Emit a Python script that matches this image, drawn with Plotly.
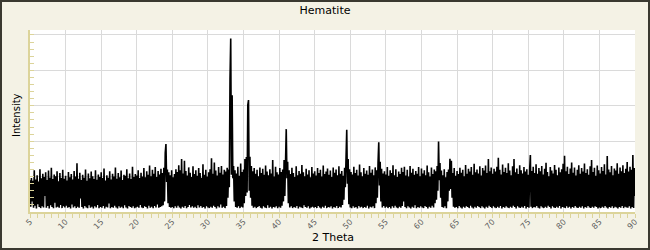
import numpy as np
import plotly.graph_objects as go

# ---- data (intensity counts on a 0.1 deg 2-theta grid) ----
theta_start = 5.0
theta_step = 0.1

counts_05 = [90, 15, 96, 30, 88, 12, 118, 18, 92, 10,
             104, 22, 86, 14, 121, 11, 95, 16, 108, 13,
             99, 45, 112, 12, 90, 17, 117, 10, 97, 19,
             125, 14, 93, 11, 106, 26, 101, 13, 115, 15,
             87, 12, 110, 20, 96, 11, 119, 16, 94, 13]
counts_10 = [102, 18, 89, 12, 113, 14, 98, 10, 107, 21,
             92, 13, 116, 16, 100, 11, 138, 15, 94, 12,
             111, 38, 90, 14, 105, 10, 97, 17, 120, 13,
             88, 11, 109, 19, 95, 12, 114, 15, 101, 10,
             93, 16, 118, 13, 91, 20, 106, 11, 99, 14]
counts_15 = [112, 12, 96, 17, 123, 10, 89, 15, 104, 13,
             97, 24, 115, 11, 92, 14, 108, 12, 100, 18,
             126, 13, 94, 10, 110, 16, 98, 12, 117, 15,
             90, 11, 105, 19, 102, 13, 121, 10, 95, 17,
             109, 14, 93, 12, 128, 16, 99, 11, 107, 13]
counts_20 = [103, 15, 118, 12, 96, 20, 111, 13, 100, 11,
             124, 16, 98, 14, 115, 10, 105, 18, 131, 12,
             101, 15, 119, 11, 108, 17, 127, 13, 99, 21,
             116, 12, 106, 14, 122, 16, 110, 19, 125, 30,
             167, 192, 85, 120, 25, 112, 14, 104, 12, 118]
counts_25 = [14, 98, 11, 107, 16, 121, 12, 113, 18, 132,
             13, 118, 10, 150, 15, 109, 12, 145, 17, 116,
             11, 103, 14, 126, 20, 111, 13, 99, 16, 129,
             12, 107, 15, 118, 11, 102, 19, 124, 13, 110,
             17, 97, 12, 135, 14, 105, 10, 119, 16, 100]
counts_30 = [13, 112, 11, 121, 15, 152, 12, 108, 18, 140,
             14, 117, 10, 103, 16, 127, 13, 111, 21, 130,
             12, 106, 15, 119, 11, 114, 17, 125, 40, 120,
             70, 375, 490, 105, 330, 95, 130, 30, 118, 14,
             109, 12, 128, 16, 102, 11, 137, 15, 113, 13]
counts_35 = [120, 25, 150, 45, 155, 55, 302, 316, 60, 156,
             40, 130, 18, 115, 12, 124, 15, 108, 11, 119,
             14, 101, 17, 126, 12, 110, 10, 122, 16, 105,
             13, 131, 11, 114, 19, 104, 12, 121, 15, 109,
             10, 147, 14, 100, 13, 128, 16, 112, 11, 106]
counts_40 = [15, 124, 12, 113, 18, 120, 30, 147, 45, 140,
             234, 95, 142, 25, 118, 13, 107, 16, 125, 11,
             110, 14, 99, 12, 129, 17, 104, 10, 116, 15,
             108, 13, 133, 11, 112, 19, 101, 14, 122, 12,
             106, 16, 118, 10, 98, 13, 127, 15, 109, 12]
counts_45 = [115, 14, 103, 11, 124, 17, 110, 13, 119, 10,
             100, 15, 131, 12, 107, 18, 114, 11, 123, 14,
             105, 13, 117, 16, 99, 10, 126, 14, 111, 12,
             120, 17, 104, 11, 129, 15, 108, 13, 116, 20,
             102, 35, 125, 70, 152, 232, 80, 150, 22, 121]
counts_50 = [13, 113, 11, 106, 16, 128, 12, 110, 14, 119,
             10, 103, 17, 134, 13, 112, 15, 101, 11, 124,
             14, 108, 12, 117, 18, 105, 10, 130, 15, 111,
             13, 120, 16, 104, 11, 126, 25, 118, 40, 140,
             197, 75, 142, 30, 122, 13, 109, 17, 115, 12]
counts_55 = [106, 15, 127, 11, 102, 14, 118, 10, 110, 16,
             132, 12, 104, 18, 121, 13, 99, 11, 114, 15,
             107, 12, 125, 17, 113, 30, 128, 14, 103, 11,
             119, 16, 100, 13, 130, 10, 111, 15, 122, 12,
             105, 19, 116, 11, 108, 14, 127, 12, 101, 16]
counts_60 = [123, 13, 109, 11, 118, 17, 104, 14, 131, 10,
             112, 15, 100, 12, 126, 18, 107, 13, 120, 25,
             115, 35, 130, 60, 199, 90, 138, 40, 117, 14,
             104, 12, 121, 16, 98, 11, 113, 30, 120, 60,
             150, 65, 145, 40, 110, 15, 124, 12, 102, 14]
counts_65 = [116, 11, 107, 17, 125, 13, 111, 10, 119, 15,
             101, 12, 133, 16, 108, 14, 122, 11, 114, 18,
             127, 13, 105, 10, 136, 15, 112, 12, 120, 17,
             109, 14, 129, 11, 103, 16, 124, 13, 117, 10,
             131, 15, 110, 12, 150, 18, 115, 14, 126, 11]
counts_70 = [108, 16, 122, 13, 114, 11, 128, 15, 153, 12,
             119, 17, 106, 10, 134, 14, 113, 12, 125, 16,
             110, 13, 138, 11, 117, 15, 104, 12, 129, 18,
             150, 14, 112, 10, 123, 16, 107, 13, 132, 11,
             118, 15, 109, 12, 127, 17, 114, 10, 121, 14]
counts_75 = [105, 12, 120, 161, 15, 116, 11, 128, 14, 110,
             13, 135, 17, 108, 12, 124, 10, 115, 16, 130,
             13, 106, 11, 122, 15, 139, 12, 113, 18, 101,
             14, 127, 10, 117, 16, 109, 13, 133, 11, 119,
             15, 104, 12, 126, 17, 112, 10, 121, 14, 136]
counts_80 = [13, 159, 11, 115, 16, 128, 12, 107, 15, 123,
             10, 140, 14, 111, 12, 126, 17, 103, 13, 119,
             11, 132, 15, 108, 12, 124, 16, 114, 10, 137,
             14, 110, 12, 121, 17, 105, 13, 129, 11, 147,
             15, 113, 12, 125, 16, 102, 14, 131, 10, 118]
counts_85 = [13, 109, 11, 127, 15, 116, 12, 135, 17, 106,
             13, 158, 10, 120, 14, 112, 12, 130, 16, 104,
             11, 123, 15, 117, 13, 138, 10, 108, 14, 126,
             12, 115, 17, 132, 11, 110, 15, 122, 13, 141,
             12, 114, 16, 128, 10, 119, 14, 161, 11, 124]
counts_90 = [45]

x_tick_values = [5, 10, 15, 20, 25, 30, 35, 40, 45, 50, 55, 60, 65, 70, 75, 80, 85, 90]
x_tick_labels = [str(v) for v in x_tick_values]

chart_title = "Hematite"
x_title = "2 Theta"
y_title = "Intensity"

# ---- build series ----
intensity = (counts_05 + counts_10 + counts_15 + counts_20 + counts_25 + counts_30 +
             counts_35 + counts_40 + counts_45 + counts_50 + counts_55 + counts_60 +
             counts_65 + counts_70 + counts_75 + counts_80 + counts_85 + counts_90)
two_theta = np.round(theta_start + theta_step * np.arange(len(intensity)), 2)

# ---- layout geometry ----
W, H = 650, 250
ML, MR, MT, MB = 30, 15, 30, 38
PW = W - ML - MR
PH = H - MT - MB

def px_to_paper_x(px):
    return (px - ML) / PW

def py_to_paper_y(py):
    return (H - MB - py) / PH

cream = "#f4f2e5"
axis_yellow = "#dcd49a"
grid = "#dadada"
font_family = "DejaVu Sans, Verdana, sans-serif"

fig = go.Figure()
fig.add_trace(go.Scatter(
    x=two_theta, y=intensity, mode="lines",
    line=dict(color="#000000", width=1.6, simplify=False),
    hoverinfo="skip", showlegend=False,
))

fig.update_layout(
    width=W, height=H,
    margin=dict(l=ML, r=MR, t=MT, b=MB, pad=0),
    paper_bgcolor=cream,
    plot_bgcolor="#ffffff",
    font=dict(family=font_family, color="#000000", size=11),
    title=dict(text=chart_title, x=0.5, xref="container", xanchor="center",
               y=1 - 10 / H, yref="container", yanchor="middle",
               font=dict(size=11, color="#000000", family=font_family)),
    showlegend=False,
)

fig.update_xaxes(
    range=[5, 90],
    tickmode="array", tickvals=x_tick_values, ticktext=x_tick_labels,
    tickangle=-45,
    tickfont=dict(size=8, color="#606060", family=font_family),
    ticks="outside", ticklen=4, tickcolor=axis_yellow, tickwidth=1,
    ticklabelstandoff=-4,
    minor=dict(dtick=1, ticks="outside", ticklen=4, tickcolor=axis_yellow, tickwidth=1, showgrid=False),
    showgrid=True, gridcolor=grid, gridwidth=1,
    showline=True, linecolor=axis_yellow, linewidth=2,
    zeroline=False,
)
fig.update_yaxes(
    range=[0, 514],
    dtick=100, tick0=0,
    showticklabels=False,
    ticks="inside", ticklen=4, tickcolor=axis_yellow, tickwidth=1,
    minor=dict(dtick=20, ticks="inside", ticklen=4, tickcolor=axis_yellow, tickwidth=1, showgrid=False),
    showgrid=True, gridcolor=grid, gridwidth=1,
    showline=True, linecolor=axis_yellow, linewidth=1.5,
    zeroline=False,
)

# axis titles as annotations for exact placement
fig.add_annotation(text=x_title, xref="paper", yref="paper",
                   x=0.5, y=py_to_paper_y(237), xanchor="center", yanchor="middle",
                   showarrow=False, font=dict(size=11, color="#000000", family=font_family))
fig.add_annotation(text=y_title, xref="paper", yref="paper",
                   x=px_to_paper_x(16), y=py_to_paper_y(115), xanchor="center", yanchor="middle",
                   textangle=-90, showarrow=False,
                   font=dict(size=10, color="#000000", family=font_family))

# outer frame border
fig.add_shape(type="rect", xref="paper", yref="paper",
              x0=px_to_paper_x(1), x1=px_to_paper_x(649),
              y0=py_to_paper_y(249), y1=py_to_paper_y(1),
              line=dict(color="#3a3930", width=2), fillcolor="rgba(0,0,0,0)", layer="above")

fig.write_html("out.html", config=dict(displayModeBar=False))
